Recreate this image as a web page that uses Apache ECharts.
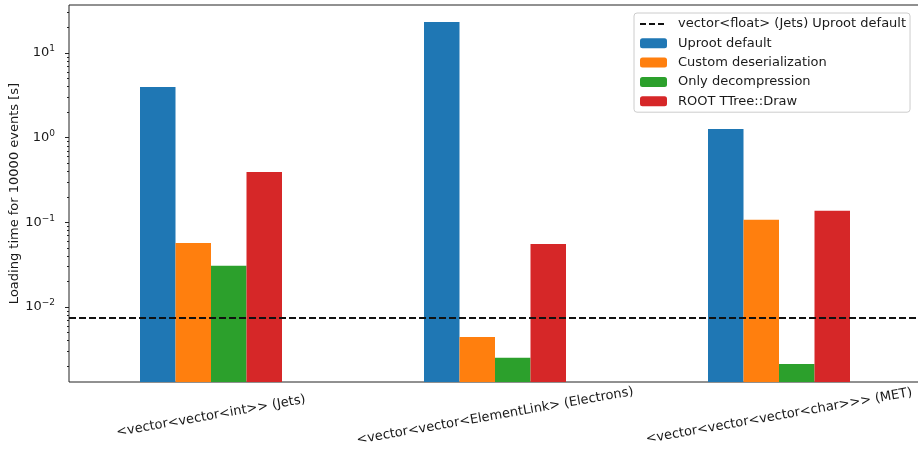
<!DOCTYPE html>
<html>
<head>
<meta charset="utf-8">
<script src="https://cdn.jsdelivr.net/npm/echarts@6/dist/echarts.min.js"></script>
<style>
html, body { margin: 0; padding: 0; background: #fff; }
#chart { width: 918px; height: 452px; }
</style>
</head>
<body>
<div id="chart"></div>
<script>
var categories = ['<vector<vector<int>> (Jets)', '<vector<vector<ElementLink> (Electrons)', '<vector<vector<vector<char>>> (MET)'];
var uprootDefault = [3.97, 23.2, 1.27];//Uproot default
var customDeser = [0.0571, 0.00442, 0.1076];//Custom deserialization
var onlyDecomp = [0.0306, 0.00252, 0.00212];//Only decompression
var rootDraw = [0.393, 0.0556, 0.1374];//ROOT TTree::Draw
var floatJetsRef = 0.0074;//vector<float> (Jets) Uproot default

var yMin = 0.0013, yMax = 36.9;
var yTicks = [0.01, 0.1, 1, 10];
var yMinorTicks = [0.002, 0.003, 0.004, 0.005, 0.006, 0.007, 0.008, 0.009,
    0.02, 0.03, 0.04, 0.05, 0.06, 0.07, 0.08, 0.09,
    0.2, 0.3, 0.4, 0.5, 0.6, 0.7, 0.8, 0.9,
    2, 3, 4, 5, 6, 7, 8, 9, 20, 30];

var font = 'DejaVu Sans';
var ink = '#1a1a1a';

function powLabel(v){
    var e = Math.round(Math.log(v) / Math.LN10);
    return '{b|10}{s|' + (e < 0 ? '\u2212' + (-e) : e) + '}';
}

var myChart = echarts.init(document.getElementById('chart'));
var barNames = ['Uproot default', 'Custom deserialization', 'Only decompression', 'ROOT TTree::Draw'];
var barData = [uprootDefault, customDeser, onlyDecomp, rootDraw];
var barColors = ['#1f77b4', '#ff7f0e', '#2ca02c', '#d62728'];
var refName = 'vector<float> (Jets) Uproot default';

var series = [];
for (var i = 0; i < barNames.length; i++) {
    series.push({
        name: barNames[i],
        type: 'bar',
        data: barData[i],
        barWidth: 35.5,
        barGap: '0%',
        itemStyle: { color: barColors[i] },
        z: 1
    });
}
series.push({
    name: refName,
    type: 'line',
    data: [null, null, null],
    symbol: 'none',
    lineStyle: { color: '#111', width: 2, type: [6, 3] },
    itemStyle: { color: 'rgba(0,0,0,0)', borderColor: 'rgba(0,0,0,0)' },
    z: 10,
    markLine: {
        silent: true,
        symbol: 'none',
        precision: 10,
        z: 10,
        label: { show: false },
        lineStyle: { color: '#111', width: 2, type: [7, 3] },
        data: [{ yAxis: floatJetsRef }]
    }
});

var option = {
    animation: false,
    textStyle: { fontFamily: font },
    grid: {
        left: 69, top: 5, width: 852, height: 377,
        outerBoundsMode: 'none',
        containLabel: false,
        show: true, borderColor: '#222', borderWidth: 1, backgroundColor: 'transparent'
    },
    legend: {
        orient: 'vertical',
        left: 634, top: 13,
        z: 30,
        data: [{ name: refName, itemStyle: { opacity: 0 } }].concat(barNames),
        itemWidth: 27, itemHeight: 10, itemGap: 5.3,
        padding: [4, 4, 4, 5],
        borderColor: '#cccccc', borderWidth: 1, borderRadius: 3,
        backgroundColor: 'rgba(255,255,255,0.8)',
        textStyle: { fontFamily: font, fontSize: 13, color: ink, lineHeight: 14, padding: [0, 0, 0, 6] }
    },
    xAxis: {
        type: 'category',
        data: categories,
        axisLine: { show: false },
        axisTick: { alignWithLabel: true, length: 4, lineStyle: { color: '#222' } },
        axisLabel: {
            rotate: 10, align: 'center', verticalAlign: 'middle', margin: 34,
            fontFamily: font, fontSize: 13, color: ink, interval: 0
        },
        splitLine: { show: false }
    },
    yAxis: [{
        type: 'log',
        min: yMin, max: yMax, startValue: yMin,
        name: 'Loading time for 10000 events [s]',
        nameLocation: 'middle', nameRotate: 90, nameGap: 48,
        nameMoveOverlap: false,
        nameTextStyle: { fontFamily: font, fontSize: 13, color: ink },
        axisLine: { show: false },
        axisTick: { show: true, length: 4, customValues: yTicks, lineStyle: { color: '#222' } },
        axisLabel: {
            customValues: yTicks, margin: 14, formatter: powLabel, color: ink,
            rich: {
                b: { fontFamily: font, fontSize: 13, color: ink },
                s: { fontFamily: font, fontSize: 9, color: ink, padding: [0, 0, 8, 0] }
            }
        },
        splitLine: { show: false }
    }, {
        type: 'log',
        min: yMin, max: yMax, position: 'left',
        axisLine: { show: false },
        axisTick: { show: true, length: 2, customValues: yMinorTicks, lineStyle: { color: '#222' } },
        axisLabel: { show: false },
        splitLine: { show: false }
    }],
    series: series
};
myChart.setOption(option);
</script>
</body>
</html>
